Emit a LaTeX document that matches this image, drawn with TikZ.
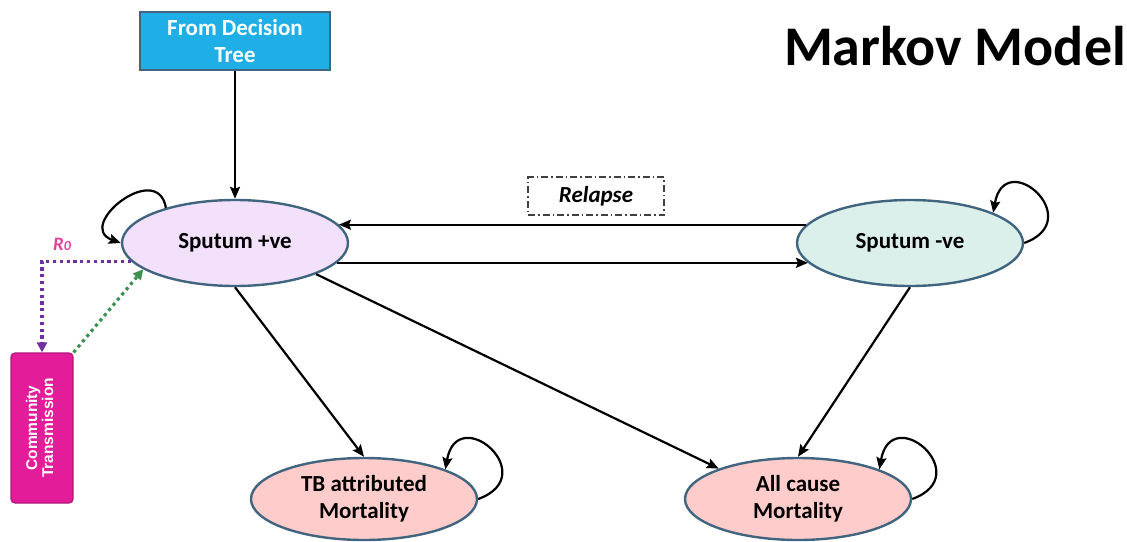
\documentclass[tikz,border=0pt]{standalone}
\usepackage{fontspec}
\setmainfont{Carlito}
\newfontfamily\arialfont{Liberation Sans}
\usepackage{graphicx}
\usetikzlibrary{arrows.meta,shapes.geometric}
\definecolor{treeblue}{HTML}{1FAEE5}
\definecolor{rimblue}{HTML}{41657F}
\definecolor{sposfill}{HTML}{F3E1FB}
\definecolor{snegfill}{HTML}{DBF0EB}
\definecolor{deadfill}{HTML}{FFCCCC}
\definecolor{commfill}{HTML}{E31C9A}
\definecolor{commrim}{HTML}{B0167A}
\definecolor{rzero}{HTML}{7030A0}
\definecolor{rzerotext}{HTML}{E83E9C}
\definecolor{backgreen}{HTML}{3C9150}
\begin{document}
\begin{tikzpicture}[x = 1pt, y = 1pt,
  state/.style = {ellipse, draw = rimblue, line width = 2.4pt, minimum width = 226pt,
    minimum height = 86pt, inner sep = 0pt, align = center,
    font = \bfseries\fontsize{23}{27}\selectfont},
  arr/.style = {-{Stealth[length = 12pt, width = 10pt, inset = 2pt]}, line width = 2.2pt},
  selfloop/.style = {arr, out = 20, in = 80, looseness = 4},
  dots/.style = {line width = 3.2pt, dash pattern = on 3.2pt off 3.6pt,
    -{Triangle[length = 10pt, width = 10pt]}}]
%%\draw[help lines, step = 50] (0,-541) grid (1127,0);
\useasboundingbox (0,0) rectangle (1127,-541);
\node [draw = rimblue, line width = 1.3pt, fill = treeblue, text = white, align = center,
  minimum width = 190pt, minimum height = 58pt, inner sep = 0pt,
  font = \bfseries\fontsize{23}{27}\selectfont] (tree) at (235,-41) {From Decision\\Tree};
\node [anchor = base, font = \bfseries\fontsize{56}{60}\selectfont] (title) at (955,-65) {Markov Model};
\node [state, fill = sposfill] (spos) at (235,-243) {Sputum +ve};
\node [state, fill = snegfill] (sneg) at (910,-243) {Sputum -ve};
\node [state, fill = deadfill, minimum height = 82pt] (tbm) at (364,-499) {TB attributed\\Mortality};
\node [state, fill = deadfill, minimum height = 82pt] (acm) at (798,-499) {All cause\\Mortality};
\node [draw = black!75, line width = 1.2pt, dash pattern = on 7pt off 3pt on 1.5pt off 3pt,
  minimum width = 136pt, minimum height = 38pt,
  font = \bfseries\itshape\fontsize{23}{27}\selectfont] (relapse) at (596,-196) {Relapse};
\node [draw = commrim, line width = 1.2pt, fill = commfill, rounded corners = 4pt, text = white,
  minimum width = 62pt, minimum height = 150pt, inner sep = 0pt,
  font = \arialfont\bfseries\fontsize{15.5}{16}\selectfont] (comm) at (42,-428)
  {\rotatebox{90}{\begin{tabular}{@{}c@{}}Community\\Transmission\end{tabular}}};
\node [text = rzerotext, font = \bfseries\itshape\fontsize{19}{20}\selectfont] (rlabel) at (62,-244)
  {R{\fontsize{14}{14}\selectfont 0}};
\draw [arr] (tree.south) -- (spos.north);
\draw [arr] (sneg.170) -- (spos.10);
\draw [arr] (spos.349) -- (sneg.191);
\draw [arr] (spos.south) -- (tbm.north);
\draw [arr] (spos.339) -- (acm.159);
\draw [arr] (sneg.south) -- (acm.north);
\draw [arr] (spos.153) to [out = 100, in = 160, looseness = 2.2] (spos.west);
\draw [selfloop] (sneg.east) to (sneg.20);
\draw [selfloop] (tbm.east) to (tbm.20);
\draw [selfloop] (acm.east) to (acm.20);
\draw [dots, rzero] (spos.190) -| (comm.north);
\draw [dots, backgreen] (comm.north east) -- (spos.196);
\end{tikzpicture}
\end{document}
